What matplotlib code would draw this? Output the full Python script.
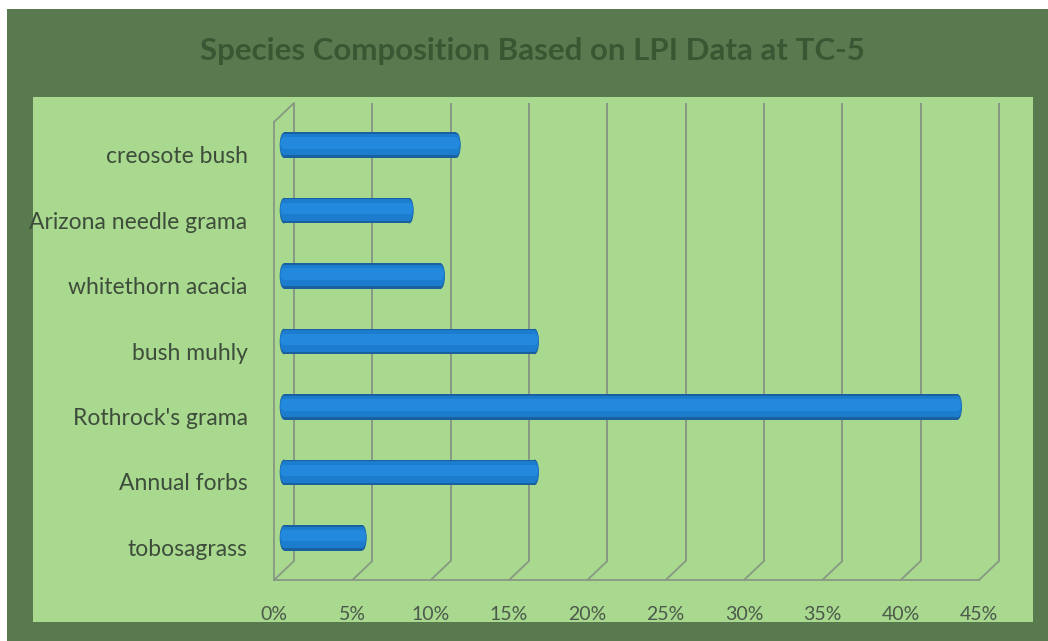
import matplotlib
matplotlib.use("Agg")
import matplotlib.pyplot as plt
from matplotlib.patches import Rectangle, Ellipse, ConnectionPatch

# ---- data -------------------------------------------------------------
chart_title = "Species Composition Based on LPI Data at TC-5"
species = ["tobosagrass", "Annual forbs", "Rothrock's grama", "bush muhly",
           "whitethorn acacia", "Arizona needle grama", "creosote bush"]
composition = [5, 16, 43, 16, 10, 8, 11]          # percent of LPI hits
x_ticks = [0, 5, 10, 15, 20, 25, 30, 35, 40, 45]
x_tick_labels = [f"{t}%" for t in x_ticks]

# ---- style ------------------------------------------------------------
W, H = 1048, 641
FRAME = "#587a4e"
PLOT_BG = "#a8d98e"
GRID = "#889884"
TEXT = "#3e4d3b"
TITLE_C = "#3a5733"
FONT = "Lato"

fig = plt.figure(figsize=(W / 100, H / 100), dpi=100, facecolor="white")


def box(x0, y0, x1, y1):
    """Pixel box (top-left origin) -> figure-fraction rect."""
    return [x0 / W, 1 - y1 / H, (x1 - x0) / W, (y1 - y0) / H]


# outer frame and plot-area panel
fig.add_artist(Rectangle((7 / W, 0), 1, (H - 9) / H, transform=fig.transFigure,
                         facecolor=FRAME, edgecolor="none", zorder=-3))
fig.add_artist(Rectangle((33 / W, 1 - 622 / H), 1000 / W, 525 / H,
                         transform=fig.transFigure, facecolor=PLOT_BG,
                         edgecolor="none", zorder=-2))

fig.text(532 / W, 1 - 51 / H, chart_title, ha="center", va="center",
         fontsize=22.5, fontweight="bold", color=TITLE_C, family=FONT)

# 3-D box: back wall, front plane and the mid-depth plane carrying the bars
DX, DY = 20, 19
front = (274, 122, 979, 580)
ax_back = fig.add_axes(box(front[0] + DX, front[1] - DY, front[2] + DX, front[3] - DY))
ax_front = fig.add_axes(box(*front))
ax_bar = fig.add_axes(box(front[0] + DX / 2, front[1] - DY / 2,
                          front[2] + DX / 2, front[3] - DY / 2))

n = len(species)
ylo, yhi = -0.5, n - 0.5
for ax in (ax_back, ax_front, ax_bar):
    ax.set_xlim(x_ticks[0], x_ticks[-1])
    ax.set_ylim(ylo, yhi)
    ax.set_facecolor("none")
    for s in ax.spines.values():
        s.set_visible(False)

# back wall gridlines
ax_back.vlines(x_ticks, ylo, yhi, color=GRID, lw=1.4, clip_on=False)
ax_back.set_xticks([])
ax_back.set_yticks([])

# front plane: floor edge, left wall edge, labels
ax_front.spines["bottom"].set_visible(True)
ax_front.spines["left"].set_visible(True)
for s in ("bottom", "left"):
    ax_front.spines[s].set_color(GRID)
    ax_front.spines[s].set_linewidth(1.3)
ax_front.set_xticks(x_ticks, x_tick_labels)
ax_front.set_yticks(range(n), species)
ax_front.tick_params(axis="x", length=0, pad=19, labelsize=14, labelcolor="#4b5a4c")
ax_front.tick_params(axis="y", length=0, pad=19, labelsize=16.5, labelcolor=TEXT)
for lab in ax_front.get_xticklabels() + ax_front.get_yticklabels():
    lab.set_family(FONT)

# floor depth lines and top of the side wall
for t in x_ticks:
    fig.add_artist(ConnectionPatch((t, ylo), (t, ylo), coordsA=ax_front.transData,
                                   coordsB=ax_back.transData, color=GRID, lw=1.3))
fig.add_artist(ConnectionPatch((0, yhi), (0, yhi), coordsA=ax_front.transData,
                               coordsB=ax_back.transData, color=GRID, lw=1.3))

# cylinder bars
bar_h = 0.39
cap_w = 0.55
layers = [(1.00, 0.0, "#1a609e"),
          (0.84, 0.02, "#1c7cce"),
          (0.45, 0.08, "#2389dc")]
ax_bar.set_xticks([])
ax_bar.set_yticks([])
for i, v in enumerate(composition):
    for frac, shift, col in layers:
        hh = bar_h * frac
        yc = i + shift * bar_h
        cw = cap_w * (0.6 + 0.4 * frac)
        ax_bar.barh(yc, v, height=hh, left=0, color=col, edgecolor="none", zorder=3)
        ax_bar.add_patch(Ellipse((v, yc), cw, hh, facecolor=col,
                                 edgecolor="none", zorder=3, clip_on=False))
        ax_bar.add_patch(Ellipse((0, yc), cw, hh, facecolor=col,
                                 edgecolor="none", zorder=3, clip_on=False))

# frame edge runs over the bottom of the axis labels
fig.add_artist(Rectangle((7 / W, 0), 1, (H - 622) / H, transform=fig.transFigure,
                         facecolor=FRAME, edgecolor="none", zorder=5))

fig.savefig("out.png", dpi=100, facecolor=fig.get_facecolor())
